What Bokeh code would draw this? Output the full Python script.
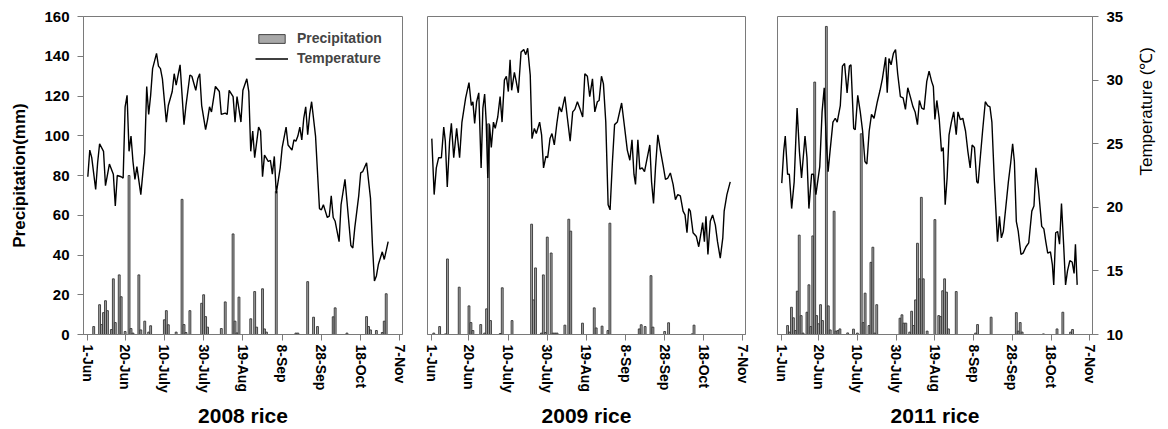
import math
from bokeh.plotting import figure
from bokeh.layouts import row
from bokeh.models import Range1d, LinearAxis, FixedTicker, Legend, LegendItem
from bokeh.embed import file_html
from bokeh.resources import INLINE

# ---------------- data (day 0 = 1 June) ----------------
tick_days = [0, 19, 39, 59, 79, 99, 119, 139, 159]
tick_labels = ["1-Jun", "20-Jun", "10-July", "30-July", "19-Aug", "8-Sep", "28-Sep", "18-Oct", "7-Nov"]
panel_titles = ["2008 rice", "2009 rice", "2011 rice"]
temp_ticks = [10, 15, 20, 25, 30, 35]
precip_ticks = [0, 20, 40, 60, 80, 100, 120, 140, 160]

# precipitation (day, mm)
precip_2008 = [(3, 4), (6, 15), (7, 5), (8, 11), (9, 17), (10, 12), (12, 2.5), (13, 28), (14, 6), (16, 30),
               (17, 19), (19, 1.5), (21, 80), (22, 3), (23, 0.7), (26, 30), (27, 2.3), (29, 6.7), (31, 1.2),
               (32, 4.4), (39, 7.4), (40, 12), (41, 4.9), (45, 1.2), (48, 68), (49, 5), (50, 1), (52, 12),
               (58, 15.7), (59, 20), (60, 9), (61, 3.7), (68, 3), (70, 16.4), (74, 50.6), (75, 6.7), (76, 0.8),
               (77, 18.8), (83, 7.9), (85, 21.6), (86, 3.7), (89, 23), (90, 2.8), (91, 1.2), (96, 72),
               (106, 0.7), (107, 0.7), (112, 26.6), (115, 8.7), (117, 4), (125, 8.9), (126, 13.4), (132, 0.7),
               (142, 9), (143, 4), (144, 2.3), (147, 2), (150, 1), (151, 6.7), (152, 20.5)]
precip_2009 = [(1, 0.7), (4, 4), (7, 0.3), (8, 38), (14, 23.8), (19, 14.4), (20, 6), (21, 2), (25, 5), (27, 0.7),
               (28, 12.9), (29, 106), (30, 7), (35, 0.5), (36, 23.5), (41, 7), (51, 55.5), (52, 17.4), (53, 33.5),
               (56, 0.7), (57, 30), (58, 1), (59, 49), (61, 41), (62, 0.7), (63, 0.7), (64, 0.7), (68, 4.7),
               (70, 58), (71, 52), (77, 5.7), (83, 13.4), (84, 3.3), (87, 4.2), (90, 2), (91, 56), (106, 2.8),
               (107, 4.9), (109, 4), (112, 29.6), (113, 3.7), (119, 1.5), (121, 5.9), (133, 0.3), (134, 4.7)]
precip_2011 = [(3, 4.5), (4, 1.2), (5, 13.7), (6, 8.4), (7, 2), (8, 21.8), (9, 50), (10, 9.5), (11, 0.7),
               (13, 11.2), (14, 25), (15, 4), (16, 49.6), (17, 127), (18, 9.5), (19, 5.4), (20, 15), (21, 7),
               (23, 155), (24, 14.4), (25, 2.3), (27, 62), (28, 1.7), (29, 2), (30, 2.8), (34, 0.8), (37, 2.7),
               (39, 0.7), (41, 101), (42, 6), (43, 20.8), (45, 4.5), (46, 36.3), (47, 43.9), (48, 0.7), (49, 15),
               (61, 8.2), (62, 9.9), (63, 5.7), (64, 5.7), (66, 1.2), (67, 11.7), (68, 4.5), (69, 17.4),
               (70, 45.9), (71, 28), (72, 69), (73, 28), (75, 1.7), (79, 57.8), (81, 9.5), (82, 9), (83, 22),
               (84, 28), (85, 21.3), (86, 2.8), (90, 21.6), (100, 0.7), (101, 5), (108, 8.7), (121, 11),
               (122, 1.7), (123, 6), (124, 1.2), (135, 0.3), (142, 2.8), (145, 11.2), (149, 1.2), (150, 2.5)]

# temperature (day, degC)
temp_2008 = [(0, 22.4), (1, 24.5), (2, 23.9), (4, 21.4), (5, 23.5), (6, 25.0), (8, 24.4), (9, 21.7), (11, 23.4),
             (13, 22.6), (14, 20.1), (15, 22.5), (17, 22.4), (18, 22.3), (19, 27.9), (20, 28.8), (21, 24.4),
             (22, 25.6), (23, 23.6), (24, 22.2), (25, 23.2), (27, 21.0), (29, 24.3), (30, 29.5), (31, 27.3),
             (32, 28.8), (33, 30.9), (35, 32.1), (36, 31.1), (37, 30.9), (38, 30.1), (40, 26.7), (41, 28.0),
             (43, 29.1), (44, 30.5), (45, 29.6), (47, 31.2), (49, 26.5), (50, 28.0), (52, 30.4), (53, 30.3),
             (55, 29.2), (56, 30.1), (57, 30.5), (58, 28.0), (60, 26.1), (61, 26.9), (62, 27.9), (63, 27.5),
             (65, 29.5), (67, 29.1), (68, 27.3), (70, 27.4), (71, 27.3), (72, 29.2), (74, 28.7), (75, 26.7),
             (76, 28.7), (78, 26.7), (79, 29.2), (81, 30.1), (82, 29.1), (83, 24.4), (84, 26.0), (85, 23.9),
             (87, 26.3), (88, 26.0), (89, 22.4), (90, 24.1), (92, 23.6), (93, 23.7), (94, 22.6), (95, 24.0),
             (96, 21.1), (98, 23.1), (99, 24.7), (101, 26.3), (102, 24.9), (104, 24.5), (105, 25.3), (106, 25.2),
             (107, 25.6), (108, 26.3), (109, 25.3), (110, 27.0), (111, 27.9), (112, 25.7), (113, 27.3),
             (114, 28.3), (116, 25.6), (118, 19.9), (119, 19.8), (120, 20.2), (121, 19.7), (122, 19.2),
             (123, 19.3), (124, 20.9), (125, 19.2), (126, 18.9), (128, 17.3), (129, 20.2), (131, 22.2),
             (132, 20.5), (134, 17.0), (135, 16.8), (136, 18.4), (138, 20.9), (139, 22.7), (140, 22.8),
             (142, 23.5), (144, 20.7), (145, 17.0), (146, 14.2), (147, 14.6), (148, 15.5), (150, 16.5),
             (151, 15.9), (153, 17.3)]
temp_2009 = [(0, 25.4), (1.2, 21.0), (2.3, 23.1), (3.5, 23.9), (4.9, 23.9), (6.1, 26.3), (6.9, 25.2), (7.9, 21.6),
             (9.1, 25.2), (10.0, 26.6), (11.2, 23.9), (12.7, 26.2), (14.2, 23.9), (15.4, 26.7), (17.3, 28.6),
             (19.0, 29.8), (20.2, 28.0), (21.0, 28.3), (21.9, 26.6), (22.9, 28.3), (24.0, 29.0), (25.2, 23.1),
             (26.1, 27.8), (27.0, 28.9), (27.8, 26.7), (28.6, 22.3), (29.5, 26.5), (30.4, 24.7), (31.5, 26.7),
             (32.4, 26.2), (33.7, 27.1), (34.9, 28.7), (35.9, 26.7), (37.1, 30.0), (38.1, 30.3), (39.1, 29.1),
             (40.0, 31.6), (40.8, 29.2), (42.2, 30.6), (43.0, 30.0), (44.2, 29.0), (45.6, 32.2), (47.0, 32.4),
             (48.0, 32.0), (49.0, 32.5), (50.3, 30.4), (51.2, 25.4), (52.4, 26.2), (53.4, 25.8), (55.1, 26.7),
             (56.1, 25.7), (57.1, 23.1), (58.3, 24.0), (59.2, 23.9), (60.4, 25.4), (61.4, 25.8), (62.6, 24.9),
             (63.9, 26.6), (65.1, 27.9), (66.3, 27.5), (68.0, 28.7), (69.3, 27.0), (70.7, 25.2), (72.0, 27.5),
             (73.1, 27.7), (74.4, 28.3), (75.8, 27.7), (77.1, 27.1), (78.2, 30.5), (79.5, 30.3), (80.7, 28.7),
             (82.1, 30.1), (83.3, 27.5), (84.6, 28.3), (85.5, 28.4), (86.7, 30.3), (87.7, 29.7), (88.9, 26.7),
             (90.1, 20.2), (91.1, 19.8), (92.3, 23.6), (93.4, 26.5), (94.8, 26.7), (97.0, 28.2), (98.5, 26.3),
             (99.9, 24.5), (101.2, 23.7), (102.3, 25.3), (103.3, 22.6), (104.1, 21.8), (105.3, 25.3),
             (106.3, 23.0), (107.5, 23.1), (108.7, 22.8), (110.1, 23.9), (111.4, 24.9), (112.3, 22.0),
             (113.3, 20.3), (114.3, 23.1), (115.5, 25.7), (116.9, 24.4), (118.2, 23.3), (119.4, 22.2),
             (120.6, 22.3), (121.9, 22.7), (123.3, 21.8), (124.5, 20.6), (125.7, 21.0), (127.0, 20.9),
             (128.4, 19.7), (129.4, 19.4), (130.4, 18.0), (131.3, 19.9), (132.1, 19.7), (133.5, 18.0),
             (135.2, 17.7), (136.4, 16.9), (137.7, 18.1), (138.4, 18.8), (139.3, 17.3), (140.1, 19.3),
             (141.1, 16.3), (142.3, 18.9), (143.5, 19.4), (144.9, 18.6), (146.0, 17.3), (147.4, 16.0),
             (148.7, 17.6), (149.4, 19.7), (150.8, 21.0), (152.5, 22.0)]
temp_2011 = [(0, 21.9), (1.0, 24.4), (1.8, 25.6), (3.0, 22.6), (3.9, 22.6), (5.1, 19.9), (6.4, 22.0), (7.9, 27.8),
             (9.1, 24.4), (10.2, 22.3), (12.0, 25.6), (13.0, 23.9), (14.0, 19.9), (15.4, 22.6), (16.4, 22.6),
             (17.6, 21.0), (19.6, 23.2), (20.8, 27.5), (21.9, 29.4), (22.9, 25.4), (23.9, 22.8), (24.9, 24.4),
             (26.4, 26.7), (27.6, 27.0), (28.6, 26.7), (30.2, 28.0), (31.3, 31.1), (32.4, 31.3), (33.7, 29.0),
             (34.9, 31.1), (35.7, 31.2), (37.1, 26.2), (37.9, 26.1), (39.2, 28.8), (40.5, 27.5), (41.7, 26.0),
             (42.9, 23.6), (43.9, 23.4), (45.1, 26.0), (46.3, 27.3), (47.6, 27.0), (49.3, 28.3), (50.7, 29.2),
             (51.9, 30.1), (53.6, 31.8), (54.4, 29.0), (55.3, 31.7), (56.4, 31.2), (57.6, 32.1), (58.7, 32.4),
             (59.8, 30.5), (61.2, 28.7), (62.6, 28.6), (63.8, 27.7), (65.0, 29.4), (66.3, 28.7), (67.7, 27.9),
             (68.8, 27.5), (70.0, 26.5), (71.0, 28.4), (72.2, 27.8), (73.4, 27.7), (74.8, 29.9), (76.0, 30.7),
             (77.3, 29.9), (78.2, 29.5), (79.0, 26.9), (80.0, 28.4), (81.2, 27.0), (82.4, 24.4), (83.3, 24.7),
             (84.3, 20.2), (85.3, 22.3), (86.3, 25.7), (87.5, 26.7), (88.7, 27.5), (90.0, 25.7), (90.9, 27.5),
             (92.1, 26.9), (93.4, 27.0), (94.8, 26.0), (96.0, 24.4), (97.2, 23.1), (98.2, 24.9), (99.4, 24.7),
             (100.6, 22.0), (101.3, 21.9), (102.4, 23.9), (103.6, 26.0), (105.0, 28.3), (106.2, 28.0),
             (107.4, 27.9), (108.4, 26.7), (109.6, 22.3), (111.3, 17.3), (112.3, 19.3), (113.3, 17.6),
             (114.3, 18.1), (115.5, 19.9), (116.9, 22.0), (118.1, 23.5), (119.1, 25.0), (120.0, 23.6),
             (121.0, 18.9), (122.0, 18.1), (123.4, 16.3), (124.5, 16.4), (126.0, 16.9), (127.4, 17.2),
             (129.0, 19.7), (130.1, 20.1), (131.1, 23.1), (132.4, 21.5), (134.1, 18.5), (135.2, 18.3),
             (136.2, 17.3), (137.2, 16.4), (138.6, 16.5), (139.6, 15.5), (140.3, 13.9), (141.3, 18.0),
             (142.3, 18.1), (143.3, 17.1), (144.3, 20.3), (145.4, 17.1), (146.4, 13.9), (147.4, 15.0),
             (148.6, 15.8), (149.8, 15.7), (150.8, 14.8), (151.5, 17.1), (152.4, 13.9)]

# ---------------- styling ----------------
FONT = "Liberation Sans"
GREY = "#7a7a7a"
BAR_FILL = "#a8a8a8"
BAR_LINE = "#333333"


def style_axis(ax, label_size="15px"):
    ax.axis_line_color = GREY
    ax.major_tick_line_color = GREY
    ax.minor_tick_line_color = None
    ax.major_tick_out = 6
    ax.major_tick_in = 0
    ax.major_label_text_font = FONT
    ax.major_label_text_font_style = "bold"
    ax.major_label_text_color = "black"
    ax.major_label_text_font_size = label_size
    ax.axis_label_text_font = FONT
    ax.axis_label_text_color = "black"


def make_panel(title, precip, temp, width, left, right, first=False, last=False):
    p = figure(width=width, height=429, x_range=Range1d(-2.2, 160.3), y_range=Range1d(0, 160),
               output_backend="svg", toolbar_location=None,
               min_border_left=left, min_border_right=right, min_border_top=16, min_border_bottom=95,
               y_axis_location="left" if first else None)
    p.extra_y_ranges = {"temp": Range1d(10, 35)}
    p.grid.visible = False
    p.outline_line_color = GREY
    p.background_fill_color = "white"
    p.border_fill_color = "white"

    bars = p.vbar(x=[d for d, _ in precip], top=[v for _, v in precip], width=0.95, bottom=0,
                  fill_color=BAR_FILL, line_color=BAR_LINE, line_width=0.9)
    line = p.line([d for d, _ in temp], [v for _, v in temp], y_range_name="temp",
                  line_color="black", line_width=1.4)

    xa = p.xaxis[0]
    style_axis(xa, "14px")
    xa.ticker = FixedTicker(ticks=tick_days)
    xa.major_label_overrides = {d: s for d, s in zip(tick_days, tick_labels)}
    xa.major_label_orientation = -math.pi / 2
    xa.major_label_standoff = 4
    xa.axis_label = title
    xa.axis_label_text_font_size = "21px"
    xa.axis_label_text_font_style = "bold"
    xa.axis_label_standoff = 8

    if first:
        ya = p.yaxis[0]
        style_axis(ya)
        ya.ticker = FixedTicker(ticks=precip_ticks)
        ya.major_label_standoff = 8
        ya.axis_label = "Precipitation(mm)"
        ya.axis_label_text_font_size = "17px"
        ya.axis_label_text_font_style = "bold"
        ya.axis_label_standoff = 12
        legend = Legend(items=[LegendItem(label="Precipitation", renderers=[bars]),
                               LegendItem(label="Temperature", renderers=[line])],
                        location=(168, 262), orientation="vertical",
                        border_line_alpha=0, background_fill_alpha=0,
                        glyph_width=33, glyph_height=11, label_standoff=9, padding=4, spacing=0, margin=0,
                        label_text_font=FONT, label_text_font_size="14px", label_text_font_style="bold",
                        label_height=20)
        p.add_layout(legend)
    if last:
        ra = LinearAxis(y_range_name="temp")
        style_axis(ra)
        ra.ticker = FixedTicker(ticks=temp_ticks)
        ra.major_label_standoff = 8
        ra.axis_label = "Temperature (℃)"
        ra.axis_label_text_font_size = "17px"
        ra.axis_label_text_font_style = "normal"
        ra.axis_label_standoff = 20
        if "axis_label_orientation" in ra.properties():
            ra.axis_label_orientation = math.pi / 2
        p.add_layout(ra, "right")
    return p


p1 = make_panel(panel_titles[0], precip_2008, temp_2008, 414, 83, 12, first=True)
p2 = make_panel(panel_titles[1], precip_2009, temp_2009, 350, 13, 19)
p3 = make_panel(panel_titles[2], precip_2011, temp_2011, 404, 13, 72, last=True)

layout = row(p1, p2, p3, spacing=0)
open("out.html", "w").write(file_html(layout, INLINE))
